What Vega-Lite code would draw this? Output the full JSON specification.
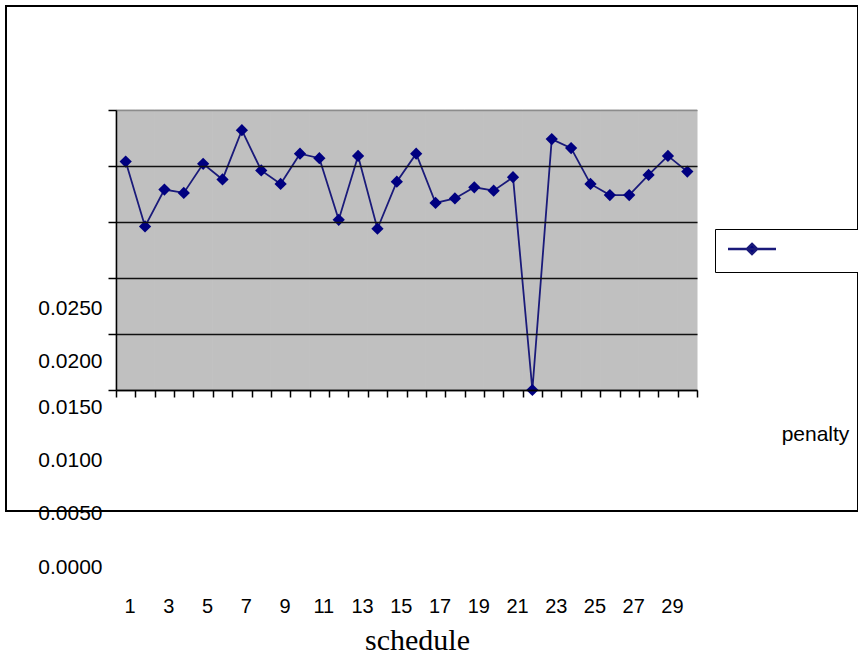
{
  "$schema": "https://vega.github.io/schema/vega-lite/v6.json",
  "width": 852,
  "height": 505,
  "autosize": {"type": "none"},
  "padding": {"left": 6, "top": 6, "right": 0, "bottom": 145},
  "background": "white",
  "view": {"stroke": "#000000", "strokeWidth": 2, "fill": "white"},
  "data": {
    "values": [
      {"schedule": 1, "penalty": 0.0204},
      {"schedule": 2, "penalty": 0.0146},
      {"schedule": 3, "penalty": 0.0179},
      {"schedule": 4, "penalty": 0.0176},
      {"schedule": 5, "penalty": 0.0202},
      {"schedule": 6, "penalty": 0.0188},
      {"schedule": 7, "penalty": 0.0232},
      {"schedule": 8, "penalty": 0.0196},
      {"schedule": 9, "penalty": 0.0184},
      {"schedule": 10, "penalty": 0.0211},
      {"schedule": 11, "penalty": 0.0207},
      {"schedule": 12, "penalty": 0.0152},
      {"schedule": 13, "penalty": 0.0209},
      {"schedule": 14, "penalty": 0.0144},
      {"schedule": 15, "penalty": 0.0186},
      {"schedule": 16, "penalty": 0.0211},
      {"schedule": 17, "penalty": 0.0167},
      {"schedule": 18, "penalty": 0.0171},
      {"schedule": 19, "penalty": 0.0181},
      {"schedule": 20, "penalty": 0.0178},
      {"schedule": 21, "penalty": 0.0190},
      {"schedule": 22, "penalty": 0.0000},
      {"schedule": 23, "penalty": 0.0224},
      {"schedule": 24, "penalty": 0.0216},
      {"schedule": 25, "penalty": 0.0184},
      {"schedule": 26, "penalty": 0.0174},
      {"schedule": 27, "penalty": 0.0174},
      {"schedule": 28, "penalty": 0.0192},
      {"schedule": 29, "penalty": 0.0209},
      {"schedule": 30, "penalty": 0.0195}
    ]
  },
  "layer": [
    {
      "mark": {"type": "rect", "color": "#c0c0c0", "stroke": "#c0c0c0", "strokeWidth": 1},
      "encoding": {
        "x": {
          "field": "schedule",
          "type": "ordinal",
          "title": "schedule",
          "scale": {"type": "band", "range": [110, 691], "paddingInner": 0, "paddingOuter": 0},
          "axis": {
            "orient": "bottom",
            "offset": -121,
            "grid": false,
            "domainColor": "#000000",
            "domainWidth": 1.5,
            "tickColor": "#000000",
            "tickSize": 7,
            "tickWidth": 1.5,
            "tickBand": "extent",
            "labelExpr": "datum.value % 2 == 1 ? datum.label : ''",
            "labelAngle": 0,
            "labelPadding": 199,
            "labelOffset": 4,
            "labelFont": "Liberation Sans",
            "labelFontSize": 20,
            "labelColor": "#000000",
            "labelOverlap": false,
            "title": "schedule",
            "titleFont": "Liberation Serif",
            "titleFontSize": 30,
            "titleFontWeight": "normal",
            "titleColor": "#000000",
            "titleX": 411,
            "titleY": 259,
            "titleAlign": "center",
            "titleBaseline": "alphabetic",
            "titleAngle": 0
          }
        },
        "y": {
          "datum": 0.025,
          "type": "quantitative",
          "title": "penalty",
          "scale": {"domain": [0, 0.025], "range": [384, 104], "nice": false, "zero": true},
          "axis": {
            "orient": "left",
            "offset": -110,
            "values": [0, 0.005, 0.01, 0.015, 0.02, 0.025],
            "format": ".4f",
            "zindex": 1,
            "domainColor": "#000000",
            "domainWidth": 1.5,
            "tickColor": "#000000",
            "tickSize": 8,
            "tickWidth": 1.5,
            "grid": true,
            "gridColor": {"condition": {"test": "datum.value > 0.024", "value": "#8c8c8c"}, "value": "#111111"},
            "gridWidth": 1.5,
            "labelFont": "Liberation Sans",
            "labelFontSize": 21,
            "labelColor": "#000000",
            "labelPadding": 6,
            "labelOverlap": false,
            "labelFlush": false,
            "labelOffset": {
              "condition": [
                {"test": "datum.value > 0.0225", "value": 198},
                {"test": "datum.value > 0.0175", "value": 195},
                {"test": "datum.value > 0.0125", "value": 185},
                {"test": "datum.value > 0.0075", "value": 182},
                {"test": "datum.value > 0.0025", "value": 179}
              ],
              "value": 177
            },
            "title": "penalty",
            "titleAngle": 0,
            "titleX": 699,
            "titleY": 434,
            "titleAlign": "center",
            "titleBaseline": "alphabetic",
            "titleFont": "Liberation Sans",
            "titleFontSize": 21,
            "titleFontWeight": "normal",
            "titleColor": "#000000"
          }
        },
        "y2": {"datum": 0}
      }
    },
    {
      "mark": {"type": "line", "strokeWidth": 1.8},
      "encoding": {
        "x": {"field": "schedule", "type": "ordinal", "title": "schedule"},
        "y": {"field": "penalty", "type": "quantitative", "title": "penalty"},
        "color": {
          "datum": "penalty",
          "type": "nominal",
          "scale": {"range": ["#1a1a7a"]},
          "legend": {
            "orient": "none",
            "legendX": 709,
            "legendY": 223,
            "title": null,
            "padding": 12,
            "strokeColor": "#000000",
            "fillColor": "#ffffff",
            "symbolType": "M-4,0H4M0,-0.85L0.85,0L0,0.85L-0.85,0Z",
            "symbolSize": 144,
            "symbolOffset": 17,
            "symbolFillColor": "#000080",
            "symbolStrokeWidth": 2.5,
            "labelExpr": "''",
            "labelOffset": 150,
            "labelFontSize": 16
          }
        }
      }
    },
    {
      "mark": {"type": "point", "shape": "diamond", "filled": true, "color": "#000080", "size": 150, "opacity": 1},
      "encoding": {
        "x": {"field": "schedule", "type": "ordinal", "title": "schedule"},
        "y": {"field": "penalty", "type": "quantitative", "title": "penalty"}
      }
    }
  ]
}
